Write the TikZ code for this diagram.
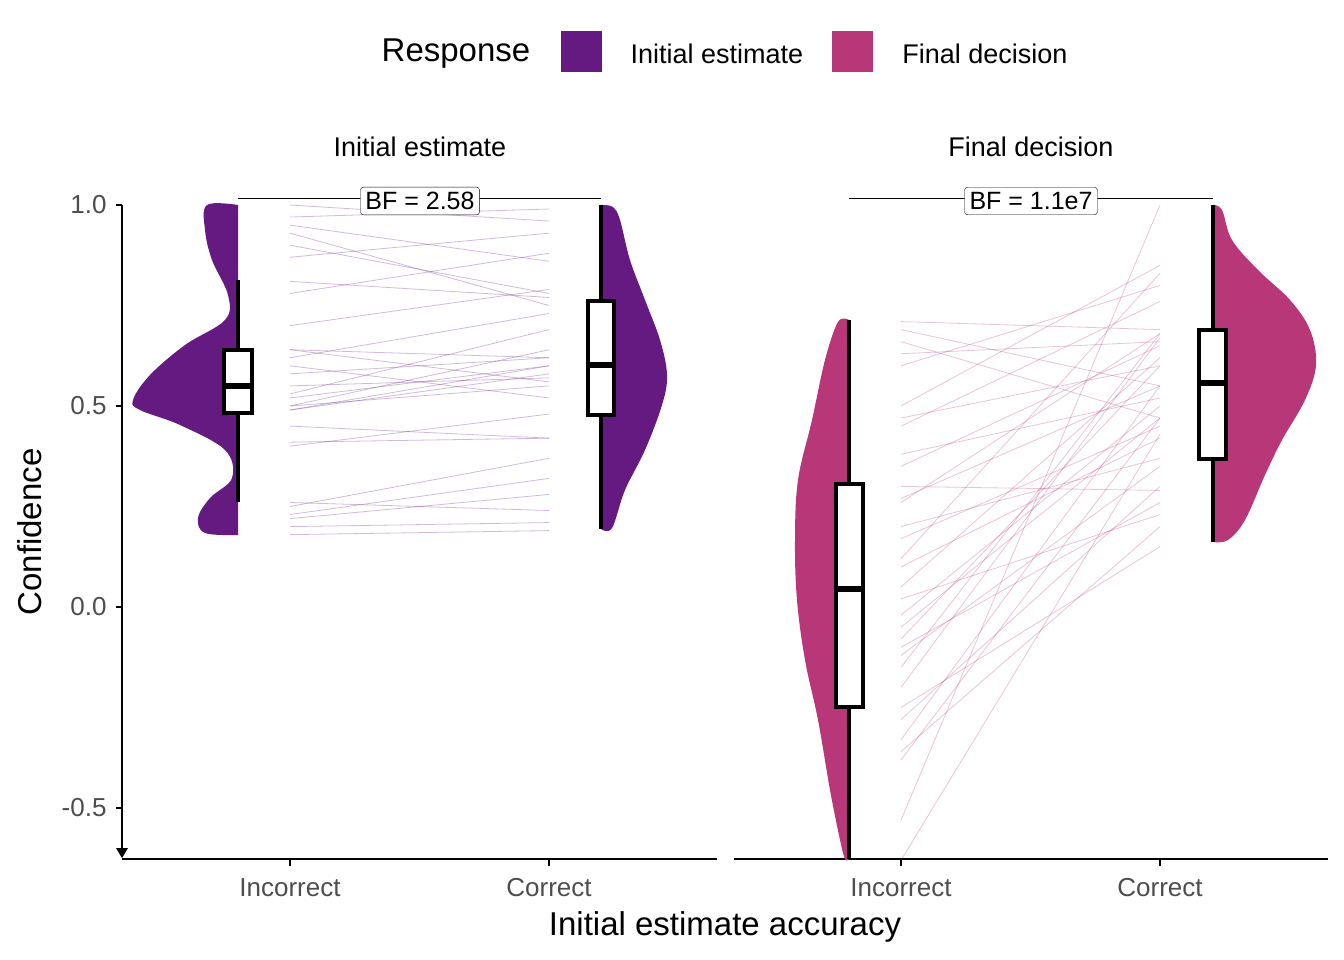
\documentclass[tikz,border=0pt]{standalone}
\usepackage{fontspec}
\setmainfont{Liberation Sans}
\definecolor{pI}{HTML}{641A80}
\definecolor{pF}{HTML}{B73779}
\definecolor{tick}{HTML}{4D4D4D}
\begin{document}
\begin{tikzpicture}[x=1pt,y=-1pt,
  box/.style={draw=black,line width=3.5pt,fill=white},
  wh/.style={line width=3.5pt},
  ticklab/.style={text=tick,font=\fontsize{26}{28}\selectfont},
  bf/.style={draw=black,fill=white,rounded corners=3pt,font=\fontsize{25}{28}\selectfont,inner sep=5pt}]
\useasboundingbox (0,0) rectangle (1344,960);
% legend
\node[font=\fontsize{33}{36}\selectfont] (lt) at (456,54) {Response};
\fill[pI] (561,31) rectangle (602,72);
\node[font=\fontsize{27}{30}\selectfont] (l1) at (717,54) {Initial estimate};
\fill[pF] (832,31) rectangle (873,72);
\node[font=\fontsize{27}{30}\selectfont] (l2) at (985,54) {Final decision};
% strip titles
\node[font=\fontsize{27}{30}\selectfont] (s1) at (420,147) {Initial estimate};
\node[font=\fontsize{27}{30}\selectfont] (s2) at (1031,147) {Final decision};
% axes
\draw[line width=1.2pt] (122,205) -- (122,855);
\fill (116,848) -- (128,848) -- (122,858) -- cycle;
\foreach \v/\l in {1/1.0,0.5/0.5,0/0.0,-0.5/-0.5}{
  \draw[line width=1.2pt] (116,{607-402*\v}) -- (122,{607-402*\v});
  \node[ticklab,anchor=east] at (110,{607-402*\v}) {\l};}
\draw[line width=1.2pt] (122,859) -- (717,859);
\draw[line width=1.2pt] (734,859) -- (1328,859);
\foreach \x/\l in {290/Incorrect,549/Correct,901/Incorrect,1160/Correct}{
  \draw[line width=1.2pt] (\x,859) -- (\x,866);
  \node[ticklab] at (\x,888) {\l};}
\node[font=\fontsize{33}{36}\selectfont,rotate=90] (yl) at (30,532) {Confidence};
\node[font=\fontsize{33}{36}\selectfont] (xl) at (725,927) {Initial estimate accuracy};
% paired lines
\foreach \a/\b in {1.0/0.96,0.97/0.99,0.95/0.86,0.93/0.75,0.9/0.78,0.87/0.93,0.81/0.77,0.78/0.88,0.7/0.79,0.64/0.62,0.64/0.56,0.62/0.73,0.6/0.52,0.58/0.62,0.55/0.57,0.53/0.69,0.5/0.64,0.5/0.55,0.49/0.58,0.49/0.6,0.45/0.42,0.41/0.42,0.4/0.48,0.26/0.24,0.25/0.37,0.23/0.32,0.22/0.28,0.18/0.19,0.2/0.21,0.52/0.6}
  \draw[pI,opacity=0.3,line width=0.8pt] (290,{607-402*\a}) -- (549,{607-402*\b});
\foreach \a/\b in {0.71/0.69,0.69/0.55,0.66/0.47,0.63/0.66,0.5/0.85,0.47/0.6,0.45/0.76,0.38/0.52,0.35/0.65,0.3/0.29,0.27/0.55,0.26/0.68,0.2/0.37,0.17/0.45,0.12/0.83,0.1/0.42,0.05/0.62,0.02/0.23,-0.02/0.5,-0.05/0.47,-0.08/0.6,-0.12/0.35,-0.15/0.68,-0.2/0.67,-0.25/0.15,-0.28/0.3,-0.33/0.55,-0.36/0.2,-0.38/0.47,-0.53/1.0,-0.63/0.43,0.6/0.8,-0.1/0.26}
  \draw[pF,opacity=0.3,line width=0.8pt] (901,{607-402*\a}) -- (1160,{607-402*\b});
% violins
\fill[pI] plot[smooth,tension=0.6] coordinates {(238,535)(205,533)(198,518)(210,498)(232,478)(225,450)(180,425)(140,410)(133,400)(150,375)(185,345)(225,320)(228,295)(212,260)(205,230)(207,205)(238,205)} -- cycle;
\fill[pI] plot[smooth,tension=0.6] coordinates {(601,529)(612,528)(625,490)(645,450)(662,405)(667,375)(660,340)(645,300)(630,260)(620,220)(613,207)(601,205)} -- cycle;
\fill[pF] plot[smooth,tension=0.6] coordinates {(849,320)(838,322)(825,360)(812,420)(798,480)(795,540)(797,600)(805,660)(818,720)(830,790)(840,840)(845,859)(849,859)} -- cycle;
\fill[pF] plot[smooth,tension=0.6] coordinates {(1213,542)(1228,540)(1245,520)(1265,475)(1282,440)(1305,400)(1316,365)(1310,330)(1290,300)(1258,270)(1232,240)(1222,210)(1213,205)} -- cycle;
% boxplots
\draw[wh] (238,280) -- (238,502);
\draw[box] (224,350) rectangle (252,413); \draw[wh,line width=6pt] (224,386) -- (252,386);
\draw[wh] (601,205) -- (601,529);
\draw[box] (588,301) rectangle (614,415); \draw[wh,line width=6pt] (588,365) -- (614,365);
\draw[wh] (849,320) -- (849,859);
\draw[box] (836,484) rectangle (863,707); \draw[wh,line width=6pt] (836,589) -- (863,589);
\draw[wh] (1213,205) -- (1213,542);
\draw[box] (1199,330) rectangle (1226,459); \draw[wh,line width=6pt] (1199,383) -- (1226,383);
% BF
\draw[line width=1pt] (238,199) -- (601,199);
\node[bf] (bf1) at (420,201) {BF = 2.58};
\draw[line width=1pt] (849,199) -- (1213,199);
\node[bf] (bf2) at (1031,201) {BF = 1.1e7};
\end{tikzpicture}
\end{document}
